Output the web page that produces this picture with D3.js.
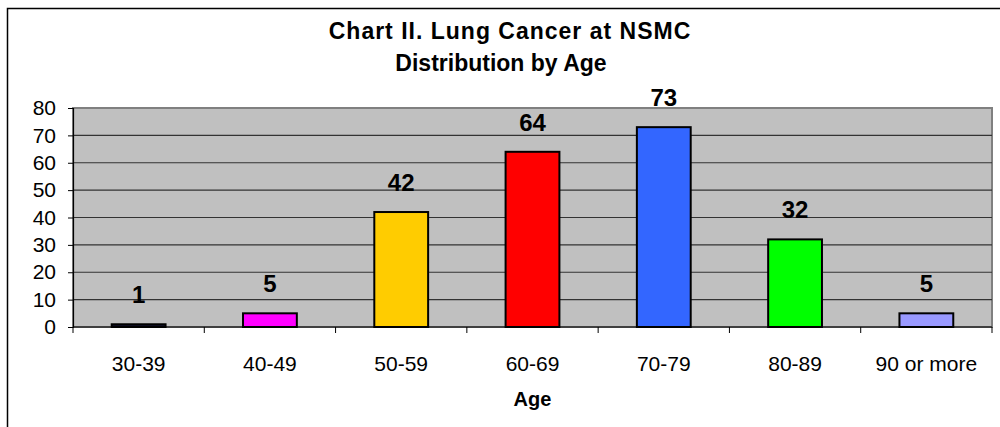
<!DOCTYPE html>
<html>
<head>
  <script src="https://d3js.org/d3.v7.min.js"></script>
  <style>
    body { margin: 0; background: #fff; }
    svg { display: block; font-family: "Liberation Sans", Arial, sans-serif; }
  </style>
</head>
<body>
  <div id="chart"></div>
  <script>
    // data
    const ageGroups = ["30-39", "40-49", "50-59", "60-69", "70-79", "80-89", "90 or more"];
    const patientCounts = [1, 5, 42, 64, 73, 32, 5];
    const barColors = ["#10102a", "#ff00ff", "#ffcc00", "#ff0000", "#3366ff", "#00ff00", "#9999ff"];
    const yTicks = [0, 10, 20, 30, 40, 50, 60, 70, 80];
    const titleLines = ["Chart II. Lung Cancer at NSMC", "Distribution by Age"];

    const width = 1000, height = 427;
    const plot = { left: 73, right: 992, top: 108, bottom: 327 };

    const svg = d3.select("#chart").append("svg")
      .attr("width", width)
      .attr("height", height);

    // outer chart frame
    svg.append("rect")
      .attr("x", 7.5).attr("y", 8.5)
      .attr("width", 1010).attr("height", 440)
      .attr("fill", "#fff")
      .attr("stroke", "#000").attr("stroke-width", 1.5);

    const x = d3.scaleBand()
      .domain(ageGroups)
      .range([plot.left, plot.right])
      .paddingInner(0.59)
      .paddingOuter(0.295);

    const xEdge = d3.scaleLinear()
      .domain([0, ageGroups.length])
      .range([plot.left, plot.right]);

    const y = d3.scaleLinear()
      .domain([0, 80])
      .range([plot.bottom, plot.top]);

    // plot background
    svg.append("rect")
      .attr("x", plot.left).attr("y", plot.top)
      .attr("width", plot.right - plot.left)
      .attr("height", plot.bottom - plot.top)
      .attr("fill", "#c0c0c0")
      .attr("stroke", "#808080").attr("stroke-width", 2);

    // gridlines
    svg.append("g")
      .selectAll("line")
      .data(yTicks.filter(d => d > 0 && d < 80))
      .join("line")
      .attr("x1", plot.left).attr("x2", plot.right)
      .attr("y1", d => y(d)).attr("y2", d => y(d))
      .attr("stroke", "#333").attr("stroke-width", 1.2);

    // y axis
    const yAxis = svg.append("g")
      .attr("transform", `translate(${plot.left},0)`)
      .call(d3.axisLeft(y).tickValues(yTicks).tickSize(5).tickPadding(12));
    yAxis.select(".domain").attr("stroke", "#000").attr("stroke-width", 1.2);
    yAxis.selectAll(".tick line").attr("stroke", "#000");
    yAxis.selectAll("text")
      .attr("font-size", 21).attr("fill", "#000")
      .attr("font-family", "Liberation Sans, Arial, sans-serif");

    // x axis (ticks at category boundaries)
    const xAxis = svg.append("g")
      .attr("transform", `translate(0,${plot.bottom})`);
    xAxis.append("line")
      .attr("x1", plot.left).attr("x2", plot.right)
      .attr("stroke", "#000").attr("stroke-width", 1.2);
    xAxis.selectAll(".edge")
      .data(d3.range(ageGroups.length + 1))
      .join("line")
      .attr("class", "edge")
      .attr("x1", d => xEdge(d)).attr("x2", d => xEdge(d))
      .attr("y1", 0).attr("y2", 6)
      .attr("stroke", "#000");
    xAxis.selectAll(".lbl")
      .data(ageGroups)
      .join("text")
      .attr("class", "lbl")
      .attr("x", d => x(d) + x.bandwidth() / 2)
      .attr("y", 44)
      .attr("text-anchor", "middle")
      .attr("font-size", 21)
      .text(d => d);

    // bars
    svg.append("g")
      .selectAll("rect")
      .data(ageGroups)
      .join("rect")
      .attr("x", d => x(d))
      .attr("y", (d, i) => y(patientCounts[i]))
      .attr("width", x.bandwidth())
      .attr("height", (d, i) => y(0) - y(patientCounts[i]))
      .attr("fill", (d, i) => barColors[i])
      .attr("stroke", "#000").attr("stroke-width", 2);

    // value labels
    svg.append("g")
      .selectAll("text")
      .data(ageGroups)
      .join("text")
      .attr("x", d => x(d) + x.bandwidth() / 2)
      .attr("y", (d, i) => y(patientCounts[i]) - 21)
      .attr("text-anchor", "middle")
      .attr("font-size", 24).attr("font-weight", "bold")
      .text((d, i) => patientCounts[i]);

    // title (two lines)
    svg.append("g")
      .selectAll("text")
      .data(titleLines)
      .join("text")
      .attr("x", (d, i) => i === 0 ? 510 : 501)
      .attr("y", (d, i) => 39 + i * 32)
      .attr("text-anchor", "middle")
      .attr("font-size", 23).attr("font-weight", "bold")
      .attr("letter-spacing", (d, i) => i === 0 ? 1 : 0)
      .text(d => d);

    // x axis title
    svg.append("text")
      .attr("x", (plot.left + plot.right) / 2)
      .attr("y", 406)
      .attr("text-anchor", "middle")
      .attr("font-size", 20).attr("font-weight", "bold")
      .text("Age");
  </script>
</body>
</html>
